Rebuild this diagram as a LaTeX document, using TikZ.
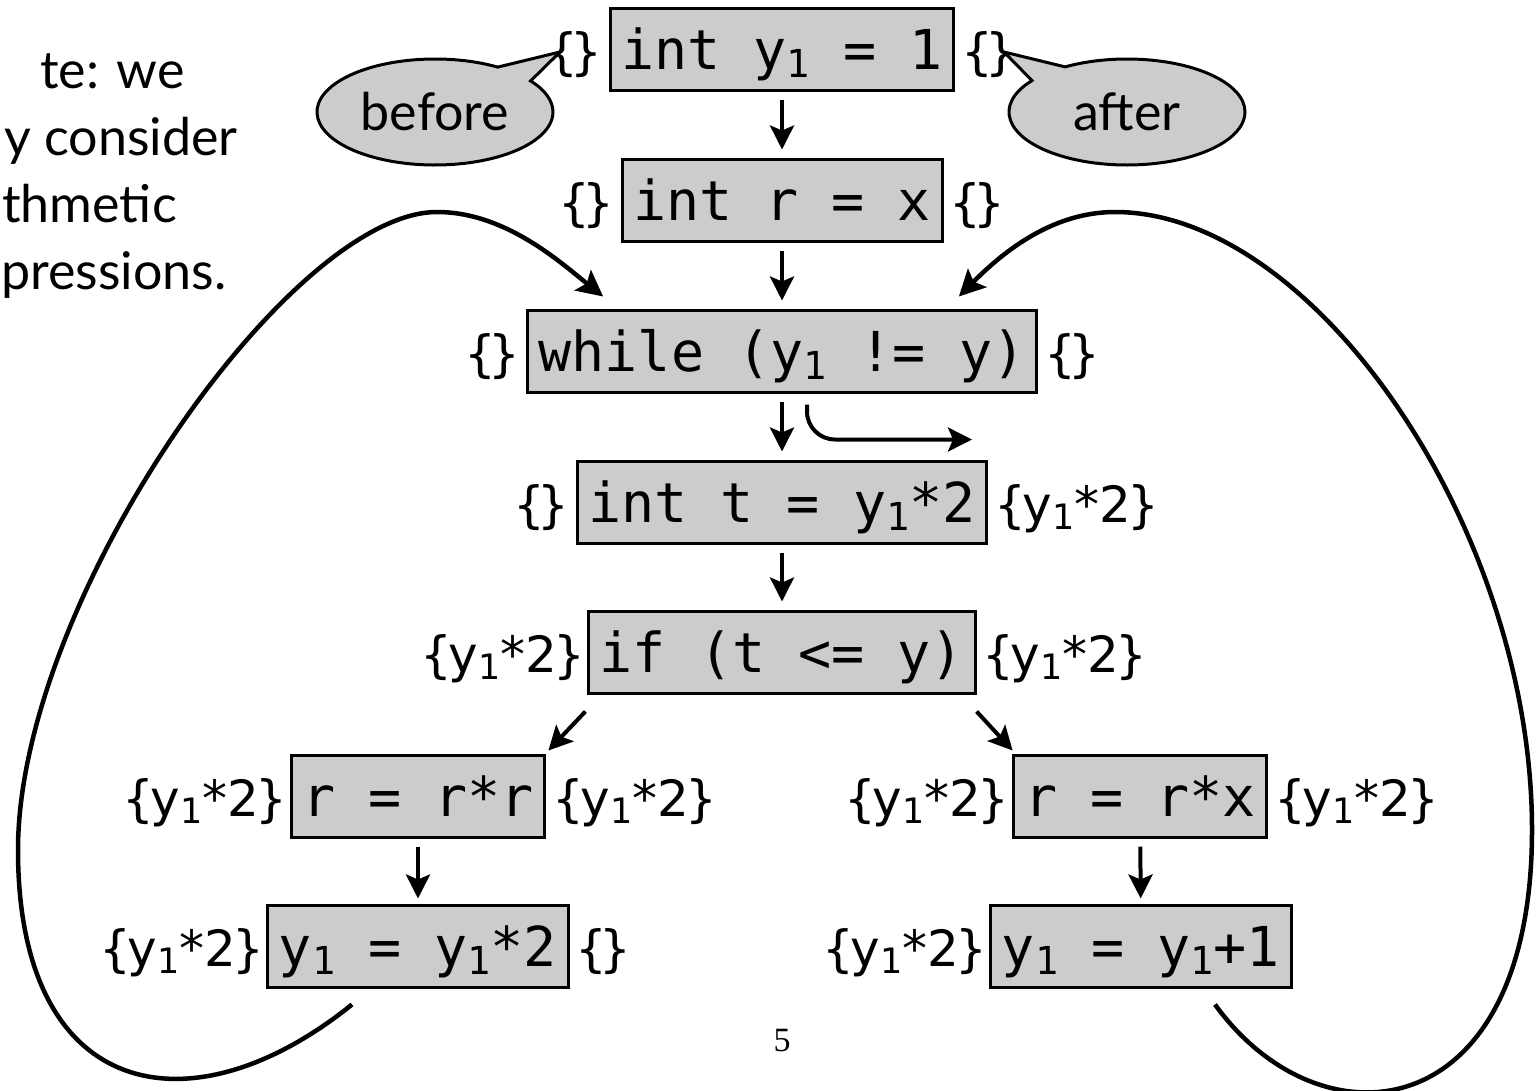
\documentclass[tikz,border=0pt]{standalone}
\usepackage{fontspec}
\usepackage{graphicx}
\usetikzlibrary{calc,arrows.meta,shapes.callouts,shapes.geometric}
\setmainfont{Lato}
\newfontfamily\codefont{DejaVu Sans Mono}
\newfontfamily\annfont{DejaVu Sans}
\newfontfamily\pagefont{Liberation Serif}
\newcommand\subone{\raisebox{-0.15em}{\scalebox{0.7}{1}}}
\newcommand\lb{\makebox[0.48em]{\{}}
\newcommand\rb{\makebox[0.48em]{\}}}
\definecolor{boxgray}{gray}{0.8}
\tikzset{
  codebox/.style={draw, line width=3pt, fill=boxgray, inner xsep=11pt, inner ysep=0pt,
    minimum height=82pt, text height=44pt, text depth=4pt,
    font=\codefont\fontsize{55}{55}\selectfont},
  ann/.style={inner sep=0pt, font=\annfont\fontsize{50}{50}\selectfont},
  annR/.style={ann, anchor=base west},
  annL/.style={ann, anchor=base east},
  arr/.style={line width=4pt, -{Stealth[length=24pt,width=24pt,inset=5pt]}},
  loop/.style={line width=4.5pt, -{Stealth[length=26pt,width=26pt,inset=5pt]}},
  bubble/.style={ellipse callout, draw, line width=3pt, fill=boxgray, inner sep=0pt,
    minimum width=236pt, minimum height=106pt, callout pointer arc=22,
    font=\fontsize{52}{52}\selectfont},
  note/.style={inner sep=0pt, anchor=base west, font=\fontsize{52}{52}\selectfont}
}
\begin{document}
\begin{tikzpicture}[x=1pt,y=-1pt]
\useasboundingbox (0,0) rectangle (1536,1090);
\clip (0,0) rectangle (1536,1090);

% note text (fragments at the left edge)
\node[note] (n1) at (40,88) {te: we};
\node[note] (n2) at (4,155) {y consider};
\node[note] (n3) at (2,222) {thmetic};
\node[note] (n4) at (1,289) {pressions.};

% statement boxes
\node[codebox] (b1) at (782,49)  {int y\subone{} = 1};
\node[codebox] (b2) at (782,200) {int r = x};
\node[codebox] (b3) at (782,351) {while (y\subone{} != y)};
\node[codebox] (b4) at (782,502) {int t = y\subone{}*2};
\node[codebox] (b5) at (782,652) {if (t <= y)};
\node[codebox] (b6) at (418,796) {r = r*r};
\node[codebox] (b7) at (418,946) {y\subone{} = y\subone{}*2};
\node[codebox] (b8) at (1140,796) {r = r*x};
\node[codebox] (b9) at (1141,946) {y\subone{} = y\subone{}+1};

% annotations
\node[annL] (l1) at ($(b1.base west)+(-10,0)$) {\lb\rb};
\node[annR] (r1) at ($(b1.base east)+(10,0)$) {\lb\rb};
\node[annL] (l2) at ($(b2.base west)+(-10,0)$) {\lb\rb};
\node[annR] (r2) at ($(b2.base east)+(10,0)$) {\lb\rb};
\node[annL] (l3) at ($(b3.base west)+(-10,0)$) {\lb\rb};
\node[annR] (r3) at ($(b3.base east)+(10,0)$) {\lb\rb};
\node[annL] (l4) at ($(b4.base west)+(-10,0)$) {\lb\rb};
\node[annR] (r4) at ($(b4.base east)+(10,0)$) {\lb y\subone*2\rb};
\node[annL] (l5) at ($(b5.base west)+(-6,0)$) {\lb y\subone*2\rb};
\node[annR] (r5) at ($(b5.base east)+(10,0)$) {\lb y\subone*2\rb};
\node[annL] (l6) at ($(b6.base west)+(-6,0)$) {\lb y\subone*2\rb};
\node[annR] (r6) at ($(b6.base east)+(10,0)$) {\lb y\subone*2\rb};
\node[annL] (l7) at ($(b7.base west)+(-6,0)$) {\lb y\subone*2\rb};
\node[annR] (r7) at ($(b7.base east)+(10,0)$) {\lb\rb};
\node[annL] (l8) at ($(b8.base west)+(-6,0)$) {\lb y\subone*2\rb};
\node[annR] (r8) at ($(b8.base east)+(10,0)$) {\lb y\subone*2\rb};
\node[annL] (l9) at ($(b9.base west)+(-6,0)$) {\lb y\subone*2\rb};

% callouts
\coordinate (tipB) at (560,52);
\coordinate (tipA) at (1004,52);
\node[bubble, callout absolute pointer={(tipB)}] (before) at (435,112) {before};
\node[bubble, callout absolute pointer={(tipA)}] (after) at (1127,112) {after};

% straight-line flow
\draw[arr, shorten <=8pt, shorten >=8pt] (b1) -- (b2);
\draw[arr, shorten <=8pt, shorten >=8pt] (b2) -- (b3);
\draw[arr, shorten <=8pt, shorten >=8pt] (b3) -- (b4);
\draw[arr, shorten <=8pt, shorten >=8pt] (b4) -- (b5);
\draw[arr, shorten <=8pt, shorten >=5pt] (b6) -- (b7);
\draw[arr, shorten <=8pt, shorten >=5pt] (b8) -- (b9);

% loop exit
\coordinate (exitend) at ($(b3.south)+(190,46)$);
\draw[arr, rounded corners=28pt] ($(b3.south)+(25,11)$) -- ($(b3.south)+(25,46)$) -- (exitend);

% branches
\draw[arr] ($(b5.south west)+(-2,17)$) -- ($(b6.north east)+(2,-3)$);
\draw[arr] ($(b5.south east)+(0,17)$) -- ($(b8.north west)+(1,-3)$);

% back edges
\coordinate (ls) at ($(b7.south)+(-66,16)$);
\coordinate (lt) at ($(b3.north west)+(77,-12)$);
\coordinate (rs) at ($(b9.south)+(74,16)$);
\coordinate (rt) at ($(b3.north east)+(-79,-12)$);
\draw[loop] (ls) .. controls (190,1135) and (18,1100) .. (18,850)
  .. controls (18,600) and (290,212) .. (437,212)
  .. controls (505,212) and (560,262) .. (lt);
\draw[loop] (rs) .. controls (1320,1150) and (1532,1130) .. (1532,830)
  .. controls (1532,530) and (1315,212) .. (1115,212)
  .. controls (1050,212) and (1000,255) .. (rt);

% page number
\node[inner sep=0pt, font=\pagefont\fontsize{34}{34}\selectfont] (pg) at (782,1041) {5};
\end{tikzpicture}
\end{document}
